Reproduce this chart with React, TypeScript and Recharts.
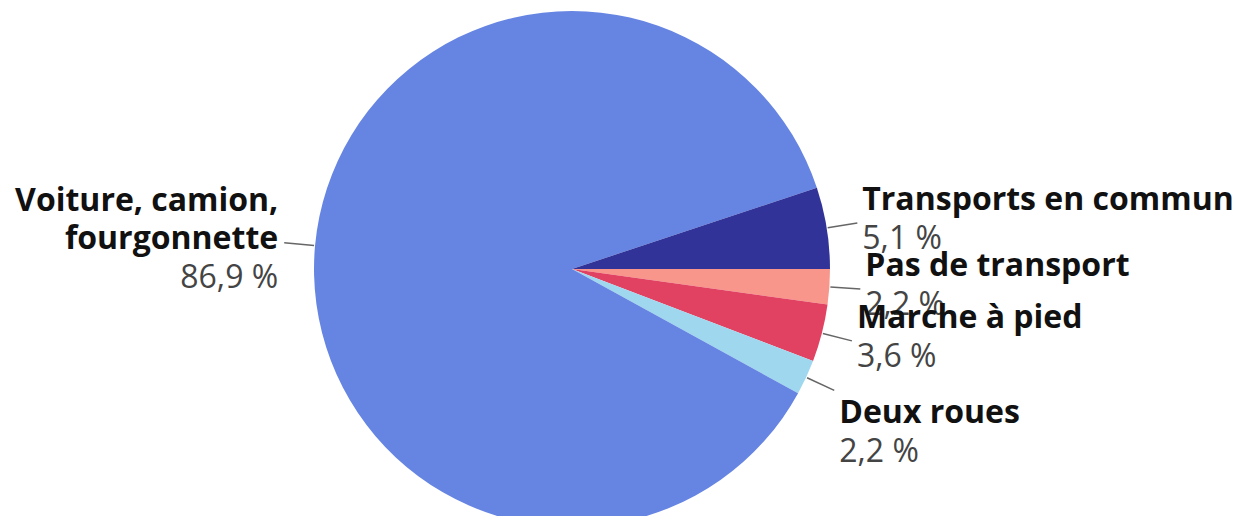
import { PieChart, Pie, Cell } from 'recharts';

// ordre horaire à partir de 3 h
const categories = [
  'Pas de transport',
  'Marche à pied',
  'Deux roues',
  'Voiture, camion, fourgonnette',
  'Transports en commun',
];
const shares = [2.2, 3.6, 2.2, 86.9, 5.1];
const colors = ['#F9968B', '#E14262', '#9FD8EE', '#6685E3', '#313399'];

const data = categories.map((name, i) => ({ name, value: shares[i] }));

const RADIAN = Math.PI / 180;
const LINE_H = 38.5;

const wrap = (text: string, max: number) => {
  const words = text.split(' ');
  const lines: string[] = [];
  let cur = '';
  words.forEach((w) => {
    const next = cur ? cur + ' ' + w : w;
    if (next.length > max && cur) {
      lines.push(cur);
      cur = w;
    } else {
      cur = next;
    }
  });
  if (cur) lines.push(cur);
  return lines;
};

const fmt = (v: number) => v.toFixed(1).replace('.', ',') + ' %';

const renderLabel = (props: any) => {
  const { cx, cy, midAngle, outerRadius, name, value } = props;
  const cos = Math.cos(-midAngle * RADIAN);
  const sin = Math.sin(-midAngle * RADIAN);
  const sx = cx + (outerRadius + 1) * cos;
  const sy = cy + (outerRadius + 1) * sin;
  const ex = cx + (outerRadius + 31) * cos;
  const ey = cy + (outerRadius + 31) * sin;
  const right = cos >= 0;
  const lines = wrap(name, 20);
  const n = lines.length + 1;
  // étiquettes basses poussées sous le trait
  const firstBase = sin > 0.3 ? ey + 33 : ey - ((n - 1) * LINE_H) / 2 + 6.5;
  const tx = right ? ex + 5 : ex - 6;
  return (
    <g>
      <line x1={sx} y1={sy} x2={ex} y2={ey} stroke="#666" strokeWidth={1.5} />
      <text
        x={tx}
        y={firstBase}
        textAnchor={right ? 'start' : 'end'}
        fontFamily="'Open Sans', sans-serif"
        fontSize={32}
      >
        {lines.map((l, i) => (
          <tspan key={i} x={tx} y={firstBase + i * LINE_H} fontWeight={700} fill="#111">
            {l}
          </tspan>
        ))}
        <tspan x={tx} y={firstBase + lines.length * LINE_H} fill="#444">
          {fmt(value)}
        </tspan>
      </text>
    </g>
  );
};

const App = () => {
  return (
    <div style={{ margin: -8, background: '#fff', width: 1246, height: 524 }}>
      <PieChart width={1246} height={524} margin={{ top: 0, right: 0, bottom: 0, left: 0 }}>
        <Pie
          data={data}
          dataKey="value"
          nameKey="name"
          cx={572}
          cy={269}
          outerRadius={258}
          startAngle={0}
          endAngle={-360}
          stroke="none"
          label={renderLabel}
          labelLine={false}
          isAnimationActive={false}
        >
          {data.map((d, i) => (
            <Cell key={d.name} fill={colors[i]} />
          ))}
        </Pie>
      </PieChart>
    </div>
  );
};

export default App;
